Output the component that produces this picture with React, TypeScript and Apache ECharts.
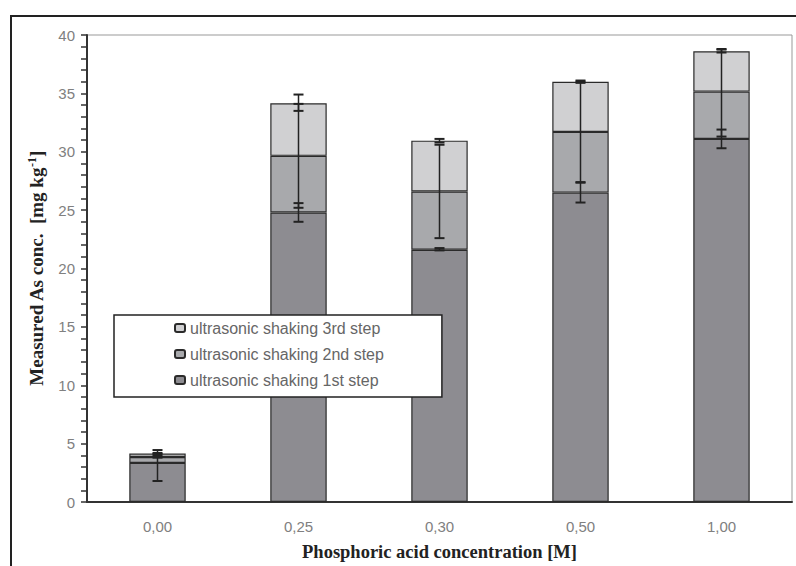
import React, { useEffect, useRef } from "react";
import * as echarts from "echarts";

const categories = ["0,00", "0,25", "0,30", "0,50", "1,00"];
const seriesNames = [
  "ultrasonic shaking 1st step",
  "ultrasonic shaking 2nd step",
  "ultrasonic shaking 3rd step",
];
const step1 = [3.35, 24.8, 21.6, 26.5, 31.1];
const step2 = [0.5, 4.85, 5.0, 5.2, 4.05];
const step3 = [0.3, 4.5, 4.35, 4.3, 3.45];

const err1Low = [1.8, 24.0, 21.55, 25.65, 30.3];
const err1High = [4.45, 25.6, 21.75, 27.35, 31.9];
const err2Low = [3.8, 25.2, 22.6, 27.4, 31.3];
const err2High = [3.95, 34.1, 30.6, 36.0, 38.8];
const err3Low = [4.1, 33.5, 30.8, 35.9, 38.5];
const err3High = [4.2, 34.9, 31.1, 36.1, 38.75];

const colors = ["#8d8c91", "#a8a9ac", "#d0d0d2"];

export default function App() {
  const ref = useRef<HTMLDivElement>(null);
  useEffect(() => {
    document.body.style.margin = "0";
    const chart = echarts.init(ref.current!, null, { renderer: "svg" });
    const errData: number[][] = [];
    [
      [err1Low, err1High],
      [err2Low, err2High],
      [err3Low, err3High],
    ].forEach(([lo, hi]) => {
      categories.forEach((_, i) => errData.push([i, lo[i], hi[i]]));
    });
    const steps = [step1, step2, step3];
    const barSeries = steps.map((d, k) => ({
      name: seriesNames[k],
      type: "bar",
      stack: "total",
      barWidth: "40%",
      data: d,
      itemStyle: { color: colors[k], borderColor: "#2a2a2a", borderWidth: 1.2 },
      z: 2,
    }));
    chart.setOption({
      animation: false,
      backgroundColor: "#fff",
      graphic: [
        {
          type: "rect",
          shape: { x: 11, y: 16, width: 800, height: 600 },
          style: { fill: "none", stroke: "#222", lineWidth: 2 },
          silent: true,
          z: 0,
        },
      ],
      grid: {
        left: 87,
        right: 4,
        top: 35,
        bottom: 64,
        show: true,
        borderColor: "#999",
        borderWidth: 1,
        backgroundColor: "transparent",
      },
      legend: {
        orient: "vertical",
        left: 114,
        top: 315,
        data: [seriesNames[2], seriesNames[1], seriesNames[0]],
        itemWidth: 10,
        itemHeight: 8,
        itemGap: 10,
        padding: [5, 58, 9, 60],
        borderColor: "#222",
        borderWidth: 1.5,
        borderRadius: 0,
        backgroundColor: "#fff",
        textStyle: {
          fontFamily: "Liberation Sans",
          fontSize: 16,
          lineHeight: 16,
          color: "#666",
        },
        z: 10,
      },
      xAxis: {
        type: "category",
        data: categories,
        name: "Phosphoric acid concentration [M]",
        nameLocation: "middle",
        nameGap: 40,
        nameTextStyle: {
          fontFamily: "Liberation Serif",
          fontWeight: "bold",
          fontSize: 18.5,
          color: "#222",
        },
        axisLine: { lineStyle: { color: "#333", width: 2 } },
        axisTick: { length: 6, lineStyle: { color: "#333", width: 1.5 } },
        axisLabel: {
          margin: 17,
          fontFamily: "Liberation Sans",
          fontSize: 15,
          color: "#808080",
        },
      },
      yAxis: {
        type: "value",
        min: 0,
        max: 40,
        interval: 5,
        name: "Measured As conc.  [mg kg{sup|-1}]",
        nameLocation: "middle",
        nameGap: 40,
        nameTextStyle: {
          fontFamily: "Liberation Serif",
          fontWeight: "bold",
          fontSize: 19,
          color: "#222",
          rich: {
            sup: {
              fontFamily: "Liberation Serif",
              fontWeight: "bold",
              fontSize: 12,
              color: "#222",
              verticalAlign: "top",
              padding: [0, 0, 9, 0],
            },
          },
        },
        axisLine: { show: true, lineStyle: { color: "#333", width: 2 } },
        axisTick: { show: true, length: 6, lineStyle: { color: "#333", width: 1.5 } },
        minorTick: { show: true, splitNumber: 5, length: 6, lineStyle: { color: "#333", width: 1.5 } },
        splitLine: { show: false },
        axisLabel: {
          margin: 12,
          fontFamily: "Liberation Sans",
          fontSize: 15,
          color: "#808080",
        },
      },
      series: [
        ...barSeries,
        {
          type: "custom",
          name: "errors",
          z: 5,
          data: errData,
          encode: { x: 0, y: [1, 2] },
          renderItem: (params: any, api: any) => {
            const i = api.value(0);
            const lo = api.coord([i, api.value(1)]);
            const hi = api.coord([i, api.value(2)]);
            const hw = 5;
            const style = { stroke: "#222", lineWidth: 2 };
            return {
              type: "group",
              children: [
                { type: "line", shape: { x1: lo[0], y1: lo[1], x2: hi[0], y2: hi[1] }, style: { stroke: "#222", lineWidth: 1.5 } },
                { type: "line", shape: { x1: lo[0] - hw, y1: lo[1], x2: lo[0] + hw, y2: lo[1] }, style },
                { type: "line", shape: { x1: hi[0] - hw, y1: hi[1], x2: hi[0] + hw, y2: hi[1] }, style },
              ],
            };
          },
        },
      ],
    });
    return () => chart.dispose();
  }, []);
  return (
    <div
      ref={ref}
      style={{ position: "absolute", left: 0, top: 0, width: 796, height: 566 }}
    />
  );
}
